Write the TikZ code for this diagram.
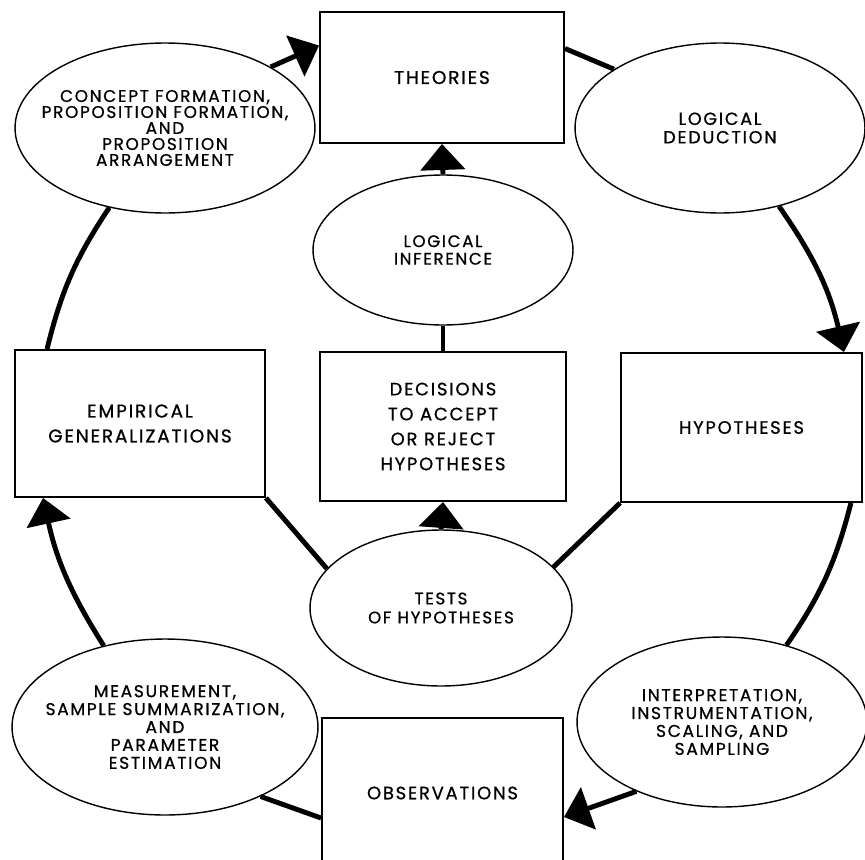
\documentclass[tikz,border=0pt]{standalone}
\usepackage{fontspec}
\setmainfont{Poppins}[LetterSpace=10, FakeBold=0.8]
\usetikzlibrary{shapes.geometric,arrows.meta}
\tikzset{
  box/.style={draw, line width=1.1pt, rectangle, inner sep=0pt, align=center,
    font=\fontsize{10.5}{14.2}\selectfont},
  oval/.style={draw, line width=0.8pt, ellipse, inner xsep=-2cm, inner ysep=-1cm, align=center},
  conn/.style={line width=2.8pt},
  arr/.style={conn, -{Triangle[length=0.52cm,width=0.88cm]}},
}
\begin{document}
\begin{tikzpicture}[x=0.02cm,y=-0.02cm]
\useasboundingbox (0,0) rectangle (865,859);
\fill[white] (0,0) rectangle (865,859);
\clip (0,0) rectangle (865,859);
% boxes
\node[box, minimum width=4.88cm, minimum height=2.62cm] (theo) at (442,77.5) {THEORIES};
\node[box, minimum width=4.82cm, minimum height=2.98cm, font=\fontsize{10.2}{14}\selectfont] (hyp) at (741.5,427.5) {HYPOTHESES};
\node[box, minimum width=4.92cm, minimum height=2.98cm, font=\fontsize{10.2}{14.2}\selectfont] (dec) at (443,426.5) {DECISIONS\\TO ACCEPT\\OR REJECT\\HYPOTHESES};
\node[box, minimum width=5.0cm, minimum height=2.94cm] (emp) at (140,423.5) {EMPIRICAL\\GENERALIZATIONS};
\node[box, minimum width=4.82cm, minimum height=3.24cm] (obs) at (442.5,799) {};
\node[font=\fontsize{10.2}{14}\selectfont] (obst) at (442.5,793) {OBSERVATIONS};
% ellipses
\node[oval, minimum width=6.0cm, minimum height=3.4cm, font=\fontsize{9.6}{9.1}\selectfont] (concept) at (165,128) {CONCEPT FORMATION,\\PROPOSITION FORMATION,\\AND\\PROPOSITION\\ARRANGEMENT};
\node[oval, minimum width=5.8cm, minimum height=3.4cm, font=\fontsize{10}{10.5}\selectfont] (ded) at (720,128) {LOGICAL\\DEDUCTION};
\node[oval, minimum width=5.2cm, minimum height=3.0cm, font=\fontsize{9.5}{10}\selectfont] (inf) at (443,250) {LOGICAL\\INFERENCE};
\node[oval, minimum width=5.24cm, minimum height=3.12cm, font=\fontsize{9.5}{10.8}\selectfont] (tests) at (441,608) {TESTS\\OF HYPOTHESES};
\node[oval, minimum width=6.12cm, minimum height=3.52cm, font=\fontsize{9.7}{10.2}\selectfont] (meas) at (165,727) {MEASUREMENT,\\SAMPLE SUMMARIZATION,\\AND\\PARAMETER\\ESTIMATION};
\node[oval, minimum width=5.8cm, minimum height=3.4cm, font=\fontsize{9.7}{10.2}\selectfont] (interp) at (722,722) {INTERPRETATION,\\INSTRUMENTATION,\\SCALING, AND\\SAMPLING};
% connectors
\draw[arr] (concept.30) -- ([yshift=0.64cm]theo.west);
\draw[conn] ([yshift=0.58cm]theo.east) -- (ded.151);
\draw[arr] (ded.-53) to[bend left=11] ([xshift=-0.38cm]hyp.north east);
\draw[arr] (inf.north) -- (theo.south);
\draw[conn] (dec.north) -- (inf.south);
\draw[arr] (tests.north) -- (dec.south);
\draw[conn] (emp.south east) -- (tests.161);
\draw[conn] (hyp.south west) -- (tests.20);
\draw[conn] (concept.235) to[bend right=10] ([xshift=0.66cm]emp.north west);
\draw[arr] (meas.127) to[bend left=10] ([xshift=0.58cm]emp.south west);
\draw[conn] ([xshift=-0.24cm]hyp.south east) to[bend left=10] (interp.50);
\draw[arr] (interp.219) -- ([yshift=-0.36cm]obs.east);
\draw[conn] (meas.-36) -- ([yshift=-0.38cm]obs.west);
\end{tikzpicture}
\end{document}
